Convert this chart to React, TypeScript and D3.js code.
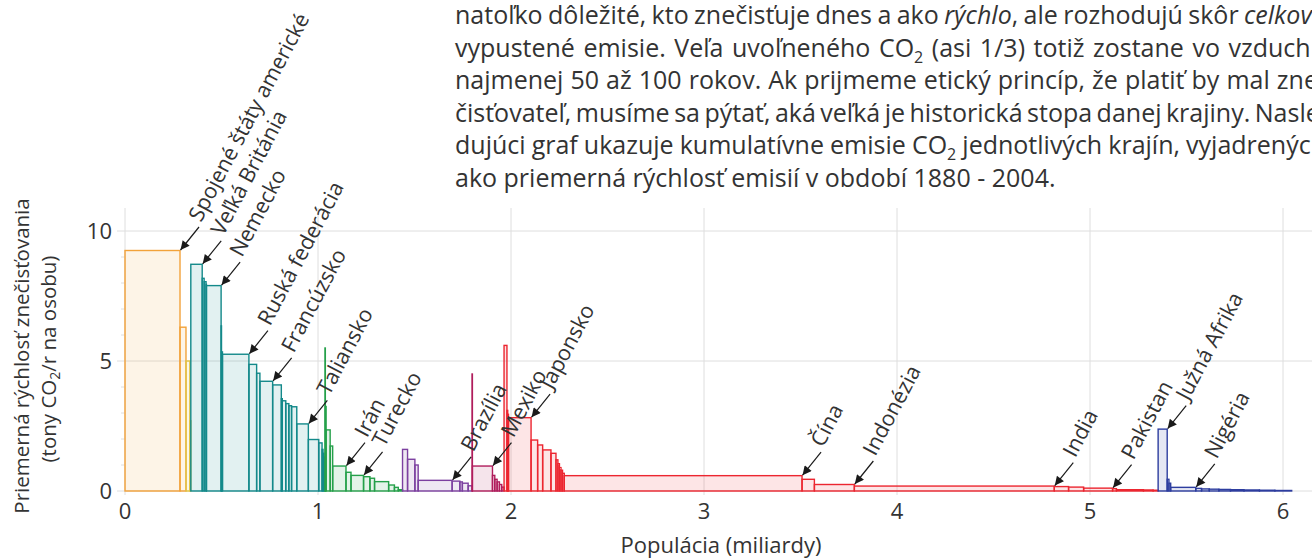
import React, { useEffect, useRef } from 'react';
import * as d3 from 'd3';

// [label, population (billions), average emission rate 1880-2004 (t CO2 / yr per person)]
type Country = [string, number, number];

const northAmerica: Country[] = [
  ['Spojené štáty americké', 0.285, 9.25],
  ['', 0.031, 6.3],
];
const oceania: Country[] = [
  ['', 0.02, 5.0],
  ['', 0.005, 2.7],
];
const europe: Country[] = [
  ['Veľká Británia', 0.059, 8.72],
  ['', 0.01, 8.18], ['', 0.01, 8.05], ['', 0.002, 7.95],
  ['Nemecko', 0.076, 7.9],
  ['', 0.002, 6.35], ['', 0.005, 5.35],
  ['Ruská federácia', 0.137, 5.26],
  ['', 0.04, 4.87], ['', 0.017, 4.53],
  ['Francúzsko', 0.066, 4.22],
  ['', 0.045, 4.08],
  ['', 0.005, 3.55], ['', 0.018, 3.47], ['', 0.016, 3.36], ['', 0.014, 3.28], ['', 0.027, 3.24],
  ['Taliansko', 0.06, 2.58],
  ['', 0.054, 1.98], ['', 0.017, 1.85], ['', 0.005, 1.6], ['', 0.005, 1.45], ['', 0.005, 1.3],
];
const middleEast: Country[] = [
  ['', 0.002, 5.5], ['', 0.004, 3.25], ['', 0.021, 2.35], ['', 0.013, 1.73],
  ['Irán', 0.069, 0.96],
  ['', 0.026, 0.72],
  ['Turecko', 0.065, 0.6],
  ['', 0.033, 0.55], ['', 0.024, 0.49], ['', 0.073, 0.36], ['', 0.03, 0.23], ['', 0.02, 0.14], ['', 0.022, 0.05],
];
const southAmerica: Country[] = [
  ['', 0.026, 1.6], ['', 0.038, 1.22], ['', 0.017, 1.0],
  ['Brazília', 0.176, 0.41],
  ['', 0.04, 0.38], ['', 0.013, 0.35], ['', 0.03, 0.3], ['', 0.02, 0.2],
];
const centralAmerica: Country[] = [
  ['', 0.002, 4.5],
  ['Mexiko', 0.104, 0.96],
  ['', 0.012, 0.6], ['', 0.012, 0.45], ['', 0.012, 0.35], ['', 0.012, 0.25], ['', 0.012, 0.15],
];
const asia: Country[] = [
  ['', 0.015, 5.6], ['', 0.004, 3.1], ['', 0.004, 2.95],
  ['Japonsko', 0.117, 2.82],
  ['', 0.034, 1.96], ['', 0.026, 1.77], ['', 0.043, 1.58], ['', 0.026, 1.45],
  ['', 0.01, 1.2], ['', 0.008, 1.05], ['', 0.008, 0.9], ['', 0.008, 0.8], ['', 0.009, 0.68],
  ['Čína', 1.232, 0.59],
  ['', 0.064, 0.45],
  ['Indonézia', 0.207, 0.25],
  ['India', 1.036, 0.19],
  ['', 0.074, 0.17], ['', 0.078, 0.15],
  ['Pakistan', 0.15, 0.11],
  ['', 0.02, 0.09], ['', 0.14, 0.05], ['', 0.05, 0.04], ['', 0.026, 0.03],
];
const africa: Country[] = [
  ['Južná Afrika', 0.047, 2.38],
  ['', 0.009, 0.45], ['', 0.009, 0.3],
  ['Nigéria', 0.13, 0.14],
  ['', 0.03, 0.1], ['', 0.04, 0.08], ['', 0.05, 0.07], ['', 0.06, 0.06],
  ['', 0.07, 0.05], ['', 0.08, 0.04], ['', 0.08, 0.03], ['', 0.087, 0.02],
];

const regionData = [northAmerica, oceania, europe, middleEast, southAmerica, centralAmerica, asia, africa];
const regionColors = ['#f2a23a', '#e2c344', '#13898a', '#25a04a', '#7c40a0', '#b01d5c', '#ec2630', '#2d3d9f'];

const xTicks = [0, 1, 2, 3, 4, 5, 6];
const yTicks = [0, 5, 10];
const yMinorTicks = [1, 2, 3, 4, 6, 7, 8, 9];

type Seg = { t: string; i?: boolean; sub?: boolean };
const paragraph: Seg[][] = [
  [{ t: 'natoľko dôležité, kto znečisťuje dnes a ako ' }, { t: 'rýchlo', i: true }, { t: ', ale rozhodujú skôr ' }, { t: 'celkovo', i: true }],
  [{ t: 'vypustené emisie. Veľa uvoľneného CO' }, { t: '2', sub: true }, { t: ' (asi 1/3) totiž zostane vo vzduchu' }],
  [{ t: 'najmenej 50 až 100 rokov. Ak prijmeme etický princíp, že platiť by mal zne-' }],
  [{ t: 'čisťovateľ, musíme sa pýtať, aká veľká je historická stopa danej krajiny. Nasle-' }],
  [{ t: 'dujúci graf ukazuje kumulatívne emisie CO' }, { t: '2', sub: true }, { t: ' jednotlivých krajín, vyjadrených' }],
  [{ t: 'ako priemerná rýchlosť emisií v období 1880 - 2004.' }],
];

const W = 1312;
const H = 559;
const plotTop = 208;
const paraLeft = 455;
const paraRight = 1326;
const font = "'Open Sans', 'Noto Sans', sans-serif";
const ink = '#333';

const x = d3.scaleLinear().domain([0, 6]).range([125, 1283]);
const y = d3.scaleLinear().domain([0, 10]).range([491, 231]);

const bars: { name: string; x0: number; x1: number; v: number; color: string }[] = [];
let cum = 0;
regionData.forEach((rows, ri) => {
  rows.forEach(([name, pop, v]) => {
    bars.push({ name, x0: cum, x1: cum + pop, v, color: regionColors[ri] });
    cum += pop;
  });
});

const App: React.FC = () => {
  const paraRef = useRef<SVGGElement>(null);

  useEffect(() => {
    if (!paraRef.current) return;
    d3.select(paraRef.current)
      .selectAll<SVGTextElement, unknown>('text.justify')
      .each(function () {
        this.style.wordSpacing = '0px';
        const len = this.getComputedTextLength();
        const spaces = (this.textContent || '').split(' ').length - 1;
        const ws = Math.max(-2, (paraRight - paraLeft - len) / spaces);
        if (spaces > 0) this.style.wordSpacing = `${ws}px`;
      });
  }, []);

  return (
    <svg width={W} height={H} style={{ position: 'absolute', left: 0, top: 0, background: '#fff' }} fontFamily={font}>
      <defs>
        <marker id="arrowHead" viewBox="0 0 10 10" refX="10" refY="5" markerWidth="11" markerHeight="9"
          markerUnits="userSpaceOnUse" orient="auto">
          <path d="M0,0L10,5L0,10z" fill="#1a1a1a" />
        </marker>
      </defs>

      {/* paragraph above the chart */}
      <g ref={paraRef} fill={ink} fontSize={25}>
        {paragraph.map((line, li) => (
          <text key={li} className={li < paragraph.length - 1 ? 'justify' : ''} x={paraLeft} y={24 + li * 32.5}>
            {line.map((s, si) =>
              s.sub ? (
                <tspan key={si} fontSize={16} dy={6}>{s.t}</tspan>
              ) : (
                <tspan key={si} fontStyle={s.i ? 'italic' : 'normal'} dy={si > 0 && line[si - 1].sub ? -6 : 0}>{s.t}</tspan>
              )
            )}
          </text>
        ))}
      </g>

      {/* grid */}
      <g stroke="#dedede" strokeWidth={1}>
        {xTicks.map(t => (
          <line key={`gx${t}`} x1={x(t)} x2={x(t)} y1={plotTop} y2={y(0) + 4} />
        ))}
        {yTicks.map(t => (
          <line key={`gy${t}`} x1={x(0) - 8} x2={W} y1={y(t)} y2={y(t)} />
        ))}
        {yMinorTicks.map(t => (
          <line key={`my${t}`} x1={x(0) - 4} x2={x(0)} y1={y(t)} y2={y(t)} />
        ))}
      </g>

      {/* bars */}
      <g strokeWidth={1.4}>
        {bars.map((b, i) => (
          <rect key={i} x={x(b.x0)} y={y(b.v)} width={Math.max(0.3, x(b.x1) - x(b.x0))} height={y(0) - y(b.v)}
            fill={b.color} fillOpacity={0.12} stroke={b.color} />
        ))}
      </g>

      {/* annotations */}
      <g>
        {bars.filter(b => b.name).map((b, i) => {
          const tipX = x(b.x1);
          const tipY = y(b.v);
          const tailX = tipX + 19;
          const tailY = tipY - 23.5;
          return (
            <g key={i}>
              <line x1={tailX} y1={tailY} x2={tipX + 0.5} y2={tipY - 0.5} stroke="#1a1a1a" strokeWidth={1.2}
                markerEnd="url(#arrowHead)" />
              <text transform={`translate(${tailX + 2},${tailY - 4}) rotate(-62)`} fontSize={21.5} fill={ink}>
                {b.name}
              </text>
            </g>
          );
        })}
      </g>

      {/* axes labels */}
      <g fill={ink} fontSize={22}>
        {yTicks.map(t => (
          <text key={`yl${t}`} x={112} y={y(t)} dy="0.36em" textAnchor="end">{t}</text>
        ))}
        {xTicks.map(t => (
          <text key={`xl${t}`} x={x(t)} y={519} textAnchor="middle">{t}</text>
        ))}
      </g>
      <text x={721} y={553} textAnchor="middle" fontSize={22} fill={ink}>Populácia (miliardy)</text>
      <g fill={ink} fontSize={20.5}>
        <text transform="translate(29,356) rotate(-90)" textAnchor="middle">Priemerná rýchlosť znečisťovania</text>
        <text transform="translate(56,359) rotate(-90)" textAnchor="middle">
          (tony CO<tspan fontSize={14} dy={4}>2</tspan><tspan dy={-4}>/r na osobu)</tspan>
        </text>
      </g>
    </svg>
  );
};

export default App;
